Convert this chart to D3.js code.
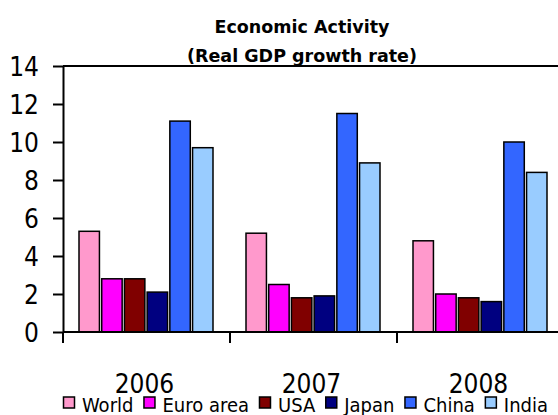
<!DOCTYPE html>
<html><head><meta charset="utf-8">
<script src="https://cdn.jsdelivr.net/npm/d3@7"></script>
<style>
html,body{margin:0;padding:0;background:#fff;}
svg text{font-family:"DejaVu Sans Condensed","DejaVu Sans",sans-serif;}
</style></head>
<body><svg id="c" width="558" height="415"></svg>
<script>
const categories = ["2006", "2007", "2008"];
const seriesNames = ["World", "Euro area", "USA", "Japan", "China", "India"];
const seriesColors = ["#FF99CC", "#FF00FF", "#800000", "#000080", "#3366FF", "#99CCFF"];
const world = [5.3, 5.2, 4.8];
const euroArea = [2.8, 2.5, 2.0];
const usa = [2.8, 1.8, 1.8];
const japan = [2.1, 1.9, 1.6];
const china = [11.1, 11.5, 10.0];
const india = [9.7, 8.9, 8.4];
const yTicks = [0, 2, 4, 6, 8, 10, 12, 14];
const titleLines = ["Economic Activity", "(Real GDP growth rate)"];

const seriesValues = [world, euroArea, usa, japan, china, india];
const rows = [];
seriesNames.forEach((s, si) => categories.forEach((c, ci) => rows.push({series: s, cat: c, value: seriesValues[si][ci], color: seriesColors[si]})));

const svg = d3.select("#c");
const mLeft = 63, mTop = 66, mBottom = 332, mRight = 564;
const x0 = d3.scaleBand().domain(categories).range([mLeft, mRight]);
const x1 = d3.scaleBand().domain(seriesNames).range([16, 150]).paddingInner(0.1);
const y = d3.scaleLinear().domain([0, 14]).range([mBottom, mTop]);

// bars
svg.append("g").selectAll("rect").data(rows).join("rect")
  .attr("x", d => x0(d.cat) + x1(d.series))
  .attr("y", d => y(d.value))
  .attr("width", x1.bandwidth())
  .attr("height", d => y(0) - y(d.value))
  .attr("fill", d => d.color)
  .attr("stroke", "#000")
  .attr("stroke-width", 1.5);

// top border
svg.append("line").attr("x1", mLeft).attr("x2", 558).attr("y1", mTop).attr("y2", mTop)
  .attr("stroke", "#000").attr("stroke-width", 2);

// y axis
const yAxis = svg.append("g").attr("transform", `translate(${mLeft},0)`)
  .call(d3.axisLeft(y).tickValues(yTicks).tickSize(10).tickSizeOuter(0).tickPadding(14));
yAxis.select(".domain").attr("stroke", "#000").attr("stroke-width", 2);
yAxis.selectAll(".tick line").attr("stroke", "#000").attr("stroke-width", 2);
yAxis.selectAll(".tick text").attr("font-size", 26).attr("font-family", "DejaVu Sans Condensed, DejaVu Sans, sans-serif").attr("fill", "#000").attr("dy", "0.36em");

// x axis line
svg.append("line").attr("x1", mLeft).attr("x2", 558).attr("y1", mBottom).attr("y2", mBottom)
  .attr("stroke", "#000").attr("stroke-width", 2);
// x ticks at category boundaries
svg.append("g").selectAll("line").data(categories).join("line")
  .attr("x1", d => x0(d)).attr("x2", d => x0(d))
  .attr("y1", mBottom).attr("y2", mBottom + 11)
  .attr("stroke", "#000").attr("stroke-width", 2);
// category labels
svg.append("g").selectAll("text").data(categories).join("text")
  .attr("x", d => x0(d) + x0.bandwidth() / 2 - 2)
  .attr("y", 393)
  .attr("text-anchor", "middle")
  .attr("font-size", 26)
  .text(d => d);

// title
svg.append("g").selectAll("text").data(titleLines).join("text")
  .attr("x", 302).attr("y", (d, i) => 33 + i * 29)
  .attr("text-anchor", "middle")
  .style("font-family", "'DejaVu Sans', sans-serif")
  .attr("font-size", 17.5).attr("font-weight", "bold")
  .text(d => d);

// legend
const lg = svg.append("g");
let lx = 63;
seriesNames.forEach((s, i) => {
  lg.append("rect").attr("x", lx + 0.5).attr("y", 397).attr("width", 11).attr("height", 11)
    .attr("fill", seriesColors[i]).attr("stroke", "#000").attr("stroke-width", 1.5);
  const t = lg.append("text").attr("x", lx + 19).attr("y", 412).attr("font-size", 20).text(s);
  lx += 19 + t.node().getComputedTextLength() + 10;
});
</script></body></html>
